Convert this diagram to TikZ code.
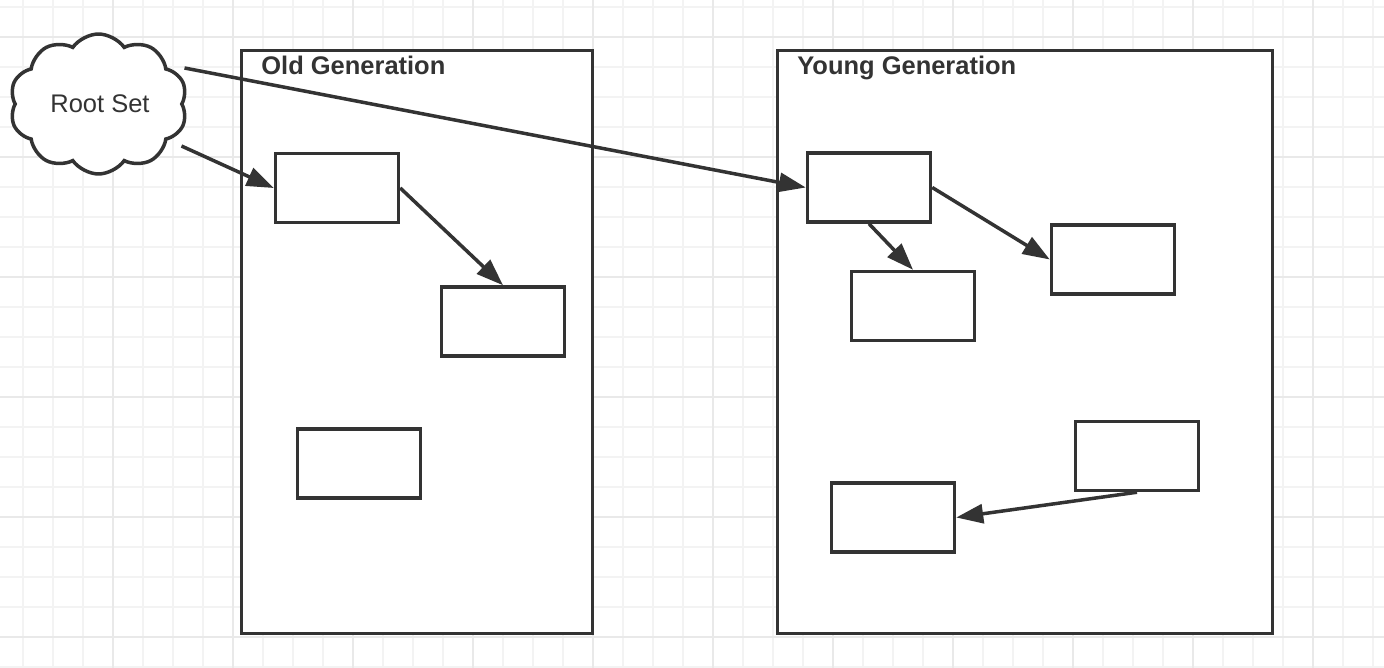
\documentclass[tikz,border=0pt]{standalone}
\usepackage{fontspec}
\setmainfont{Liberation Sans}
\usetikzlibrary{arrows.meta,shapes.symbols}
\definecolor{ink}{HTML}{333333}
\definecolor{gridminor}{HTML}{F3F3F3}
\definecolor{gridmajor}{HTML}{E9E9E9}

\begin{document}
\begin{tikzpicture}[x=0.02cm, y=-0.02cm,
  gen/.style={draw=ink, line width=0.07cm, fill=white, inner sep=0pt, minimum height=11.66cm},
  obj/.style={draw=ink, line width=0.07cm, fill=white, inner sep=0pt, minimum width=2.46cm, minimum height=1.38cm},
  ref/.style={draw=ink, line width=0.07cm, -{Triangle[length=0.54cm, width=0.38cm]}},
  title/.style={font=\fontsize{14.5}{17}\selectfont\bfseries, text=ink, anchor=base west, inner sep=0pt}]
  \useasboundingbox (0,0) rectangle (1384,668);
  \fill[white] (0,0) rectangle (1384,668);
  \foreach \x in {23,53,...,1383} \draw[gridminor, line width=0.03cm] (\x,0) -- (\x,668);
  \foreach \y in {7,37,...,667} \draw[gridminor, line width=0.03cm] (0,\y) -- (1384,\y);
  \foreach \x in {113,233,...,1313} \draw[gridmajor, line width=0.04cm] (\x,0) -- (\x,668);
  \foreach \y in {37,157,...,637} \draw[gridmajor, line width=0.04cm] (0,\y) -- (1384,\y);

  \node[gen, minimum width=7.02cm] (old) at (417,342) {};
  \node[gen, minimum width=9.9cm] (young) at (1025,342) {};
  \node[title] (oldname) at (261,75) {Old Generation};
  \node[title] (youngname) at (797,75) {Young Generation};

  \node[obj] (o1) at (337,188) {};
  \node[obj] (o2) at (503,321.5) {};
  \node[obj] (o3) at (359,463.5) {};
  \node[obj] (y1) at (869,187.5) {};
  \node[obj] (y2) at (913,306) {};
  \node[obj] (y3) at (1113,259.5) {};
  \node[obj] (y4) at (1137,456) {};
  \node[obj] (y5) at (893,517.5) {};

  \node[cloud, cloud puffs=10, cloud puff arc=110, cloud ignores aspect, draw=ink, line width=0.07cm, fill=white,
    minimum width=3.55cm, minimum height=2.8cm, inner sep=0pt,
    font=\fontsize{14.5}{17}\selectfont, text=ink] (root) at (98.5,104) {};
  \node[font=\fontsize{14.5}{17}\selectfont, text=ink] (rootname) at (100,104) {Root Set};

  \draw[ref] ([shift={(86,-36)}]root.center) -- (y1.west);
  \draw[ref] ([shift={(83,42)}]root.center) -- (o1.west);
  \draw[ref] (o1.east) -- (o2.north);
  \draw[ref] (y1.south) -- (y2.north);
  \draw[ref] (y1.east) -- (y3.west);
  \draw[ref] (y4.south) -- (y5.east);
\end{tikzpicture}
\end{document}
